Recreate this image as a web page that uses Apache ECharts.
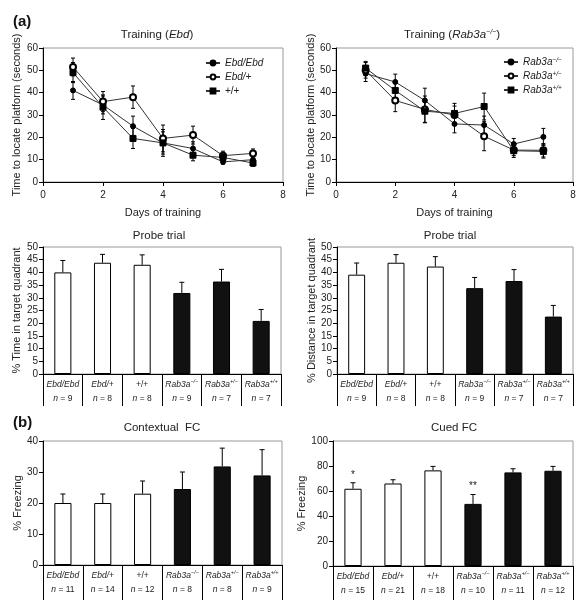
<!DOCTYPE html>
<html><head><meta charset="utf-8">
<script src="https://cdn.jsdelivr.net/npm/echarts@6/dist/echarts.min.js"></script>
<style>html,body{margin:0;padding:0;background:#fff}#c{width:581px;height:600px}</style>
</head><body><div id="c"></div><script>
// ---- data ----
const days = [1, 2, 3, 4, 5, 6, 7];
const ebdEbd = [41, 34.5, 25, 17.5, 15, 9, 10];
const ebdEbdErr = [4, 4, 4.5, 6, 3, 1, 1.5];
const ebdHet = [51.5, 36, 38, 19.5, 21, 11.8, 12.8];
const ebdHetErr = [4, 4.5, 5, 6, 4, 2, 2];
const ebdWt = [49, 33.5, 19.5, 17.5, 12, 11, 8.5];
const ebdWtErr = [4.5, 5.5, 4.5, 5, 2.5, 1.5, 1.5];
const rabKo = [48.5, 44.8, 36.5, 26, 25.5, 17, 20.2];
const rabKoErr = [3.5, 3.5, 5.5, 4, 4, 2.5, 3.8];
const rabHet = [50, 36.5, 32.5, 30, 20.5, 14.3, 14.2];
const rabHetErr = [3.5, 5, 6, 4, 6.5, 2.5, 3];
const rabWt = [51, 41, 31.7, 30.7, 33.8, 14, 13.7];
const rabWtErr = [3, 4, 5, 4.5, 6, 3, 3];
const genotypes = ['Ebd/Ebd', 'Ebd/+', '+/+', 'Rab3a−/−', 'Rab3a+/−', 'Rab3a+/+'];
const probeN = [9, 8, 8, 9, 7, 7];
const probeTime = [40, 43.8, 43, 31.9, 36.4, 20.9];
const probeTimeErr = [4.7, 3.3, 3.9, 4.2, 4.8, 4.5];
const probeDist = [39.1, 43.8, 42.3, 33.8, 36.6, 22.6];
const probeDistErr = [4.6, 3.2, 3.9, 4.2, 4.5, 4.4];
const ctxN = [11, 14, 12, 8, 8, 9];
const ctxFreeze = [20, 20, 23, 24.5, 31.8, 28.9];
const ctxErr = [2.9, 2.9, 4.1, 5.5, 5.9, 8.3];
const cuedN = [15, 21, 18, 10, 11, 12];
const cuedFreeze = [61.8, 66, 76.5, 49.7, 74.9, 76.2];
const cuedErr = [4.8, 3, 3.2, 7.5, 2.9, 3.5];
const cuedSig = ['*', '', '', '**', '', ''];
const lineTicksX = {min: 0, max: 8, interval: 2};

// ---- helpers ----
const FONT = 'Liberation Sans, Arial, sans-serif';
const TXT = '#222';
function genoRich(g) {
  if (g.indexOf('Rab3a') === 0) return '{i|Rab3a}{s|' + g.slice(5) + '}';
  if (g.indexOf('Ebd') === 0) return '{i|' + g + '}';
  return '{r|' + g + '}';
}
const catRich = {
  i: {fontStyle: 'italic', fontSize: 8.5, fontFamily: FONT, color: TXT, lineHeight: 14},
  r: {fontSize: 8.5, fontFamily: FONT, color: TXT, lineHeight: 14},
  s: {fontStyle: 'italic', fontSize: 5.5, fontFamily: FONT, color: TXT, verticalAlign: 'top', lineHeight: 14},
  n: {fontStyle: 'italic', fontSize: 8.5, fontFamily: FONT, color: TXT, lineHeight: 14}
};
const grids = [
  {left: 43, top: 48, width: 240, height: 134},
  {left: 336, top: 48, width: 237, height: 134},
  {left: 43, top: 247, width: 238, height: 127},
  {left: 337, top: 247, width: 236, height: 127},
  {left: 43, top: 441, width: 239, height: 124},
  {left: 333, top: 441, width: 240, height: 125}
].map(g => Object.assign({show: true, borderColor: '#9a9a9a', borderWidth: 1, backgroundColor: 'transparent'}, g));

function yAx(gi, max, interval, name, gap) {
  return {type: 'value', gridIndex: gi, min: 0, max: max, interval: interval,
    name: name, nameLocation: 'middle', nameGap: gap,
    nameTextStyle: {fontSize: 11, fontFamily: FONT, color: TXT},
    axisLine: {show: true, lineStyle: {color: '#000', width: 1}},
    axisTick: {show: true, inside: false, length: 4, lineStyle: {color: '#000'}},
    axisLabel: {fontSize: 10, fontFamily: FONT, color: TXT, margin: 5},
    splitLine: {show: false}};
}
function xLineAx(gi) {
  return {type: 'value', gridIndex: gi, min: lineTicksX.min, max: lineTicksX.max, interval: lineTicksX.interval,
    name: 'Days of training', nameLocation: 'middle', nameGap: 25,
    nameTextStyle: {fontSize: 11, fontFamily: FONT, color: TXT},
    axisLine: {show: true, lineStyle: {color: '#000', width: 1}},
    axisTick: {show: true, length: 4, lineStyle: {color: '#000'}},
    axisLabel: {fontSize: 10, fontFamily: FONT, color: TXT, margin: 8},
    splitLine: {show: false}};
}
function xCatAx(gi, nArr, tickLen) {
  return {type: 'category', gridIndex: gi, data: genotypes, boundaryGap: true,
    axisLine: {show: true, lineStyle: {color: '#000', width: 1}},
    axisTick: {show: true, length: tickLen, alignWithLabel: false, lineStyle: {color: '#000'}},
    axisLabel: {margin: 4, interval: 0, rich: catRich,
      formatter: (v, idx) => genoRich(v) + '\n{n|n}{r| = ' + nArr[idx] + '}'},
    splitLine: {show: false}};
}
function errSeries(gi, xs, vals, errs, both, capW, extraText) {
  return {type: 'custom', xAxisIndex: gi, yAxisIndex: gi, silent: true, z: 1,
    data: vals.map((v, i) => [xs[i], v, errs[i], i]),
    renderItem: function (params, api) {
      const x = api.value(0), v = api.value(1), e = api.value(2), idx = api.value(3);
      const top = api.coord([x, v + e]);
      const bot = api.coord([x, both ? v - e : v]);
      const hw = capW / 2;
      const st = {stroke: '#000', lineWidth: 1};
      const ch = [
        {type: 'line', shape: {x1: top[0], y1: top[1], x2: bot[0], y2: bot[1]}, style: st},
        {type: 'line', shape: {x1: top[0] - hw, y1: top[1], x2: top[0] + hw, y2: top[1]}, style: st}
      ];
      if (both) ch.push({type: 'line', shape: {x1: bot[0] - hw, y1: bot[1], x2: bot[0] + hw, y2: bot[1]}, style: st});
      if (extraText && extraText[idx]) ch.push({type: 'text', x: top[0], y: top[1] - 8,
        style: {text: extraText[idx], textAlign: 'center', textVerticalAlign: 'middle', fontSize: 10, fontFamily: FONT, fill: TXT}});
      return {type: 'group', children: ch};
    }};
}
function lineSeries(gi, name, vals, symbol, size) {
  return {type: 'line', name: name, xAxisIndex: gi, yAxisIndex: gi, z: 3,
    data: vals.map((v, i) => [days[i], v]), symbol: symbol, symbolSize: size,
    showAllSymbol: true,
    lineStyle: {color: '#333', width: 1},
    itemStyle: {color: '#000', borderColor: '#000', borderWidth: 1},
    emphasis: {disabled: true}, animation: false};
}
function barSeries(gi, vals) {
  return {type: 'bar', xAxisIndex: gi, yAxisIndex: gi, barWidth: '43%', z: 2,
    data: vals.map((v, i) => ({value: v, itemStyle: {color: i < 3 ? '#fff' : '#111', borderColor: '#000', borderWidth: 1}})),
    emphasis: {disabled: true}};
}
const legRich = {
  i: {fontStyle: 'italic', fontSize: 10, fontFamily: FONT, color: TXT},
  r: {fontSize: 10, fontFamily: FONT, color: TXT},
  s: {fontStyle: 'italic', fontSize: 6.5, fontFamily: FONT, color: TXT, verticalAlign: 'top'}
};
function legend(names, left, top) {
  return {data: names, orient: 'vertical', left: left, top: top, itemWidth: 14, itemHeight: 6, itemGap: 4,
    padding: 0, selectedMode: false, formatter: n => genoRich(n),
    textStyle: {rich: legRich, fontSize: 10, fontFamily: FONT, color: TXT}};
}
const titleStyle = {fontSize: 11.5, fontFamily: FONT, fill: TXT};
function titleText(x, y, text) {
  return {type: 'text', x: x, y: y, style: Object.assign({text: text, textAlign: 'center', textVerticalAlign: 'middle',
    rich: {i: {fontStyle: 'italic', fontSize: 11.5, fontFamily: FONT, fill: TXT, color: TXT},
           s: {fontStyle: 'italic', fontSize: 7, fontFamily: FONT, fill: TXT, color: TXT, verticalAlign: 'top'},
           r: {fontSize: 11.5, fontFamily: FONT, fill: TXT, color: TXT}}}, titleStyle)};
}

const option = {
  animation: false,
  backgroundColor: '#fff',
  grid: grids,
  legend: [legend(['Ebd/Ebd', 'Ebd/+', '+/+'], 205, 58), legend(['Rab3a−/−', 'Rab3a+/−', 'Rab3a+/+'], 503, 57)],
  xAxis: [xLineAx(0), xLineAx(1), xCatAx(2, probeN, 32), xCatAx(3, probeN, 32), xCatAx(4, ctxN, 35), xCatAx(5, cuedN, 34)],
  yAxis: [
    yAx(0, 60, 10, 'Time to locate platform (seconds)', 21),
    yAx(1, 60, 10, 'Time to locate platform (seconds)', 20),
    yAx(2, 50, 5, '% Time in target quadrant', 21),
    yAx(3, 50, 5, '% Distance in target quadrant', 20),
    yAx(4, 40, 10, '% Freezing', 19),
    yAx(5, 100, 20, '% Freezing', 19)
  ],
  series: [
    errSeries(0, days, ebdEbd, ebdEbdErr, true, 4),
    errSeries(0, days, ebdHet, ebdHetErr, true, 4),
    errSeries(0, days, ebdWt, ebdWtErr, true, 4),
    lineSeries(0, 'Ebd/Ebd', ebdEbd, 'circle', 5),
    lineSeries(0, 'Ebd/+', ebdHet, 'emptyCircle', 6),
    lineSeries(0, '+/+', ebdWt, 'rect', 6),
    errSeries(1, days, rabKo, rabKoErr, true, 4),
    errSeries(1, days, rabHet, rabHetErr, true, 4),
    errSeries(1, days, rabWt, rabWtErr, true, 4),
    lineSeries(1, 'Rab3a−/−', rabKo, 'circle', 5),
    lineSeries(1, 'Rab3a+/−', rabHet, 'emptyCircle', 6),
    lineSeries(1, 'Rab3a+/+', rabWt, 'rect', 6),
    barSeries(2, probeTime), errSeries(2, [0,1,2,3,4,5], probeTime, probeTimeErr, false, 5),
    barSeries(3, probeDist), errSeries(3, [0,1,2,3,4,5], probeDist, probeDistErr, false, 5),
    barSeries(4, ctxFreeze), errSeries(4, [0,1,2,3,4,5], ctxFreeze, ctxErr, false, 5),
    barSeries(5, cuedFreeze), errSeries(5, [0,1,2,3,4,5], cuedFreeze, cuedErr, false, 5, cuedSig)
  ],
  graphic: [
    {type: 'text', x: 13, y: 14, style: {text: '(a)', fontSize: 15, fontWeight: 'bold', fontFamily: FONT, fill: '#111'}},
    {type: 'text', x: 13, y: 415, style: {text: '(b)', fontSize: 15, fontWeight: 'bold', fontFamily: FONT, fill: '#111'}},
    titleText(157, 35, '{r|Training (}{i|Ebd}{r|)}'),
    titleText(452, 35, '{r|Training (}{i|Rab3a}{s|−/−}{r|)}'),
    titleText(159, 236, '{r|Probe trial}'),
    titleText(450, 236, '{r|Probe trial}'),
    titleText(162, 428, '{r|Contextual  FC}'),
    titleText(454, 428, '{r|Cued FC}')
  ]
};
const chart = echarts.init(document.getElementById('c'), null, {renderer: 'canvas'});
chart.setOption(option);
</script></body></html>
